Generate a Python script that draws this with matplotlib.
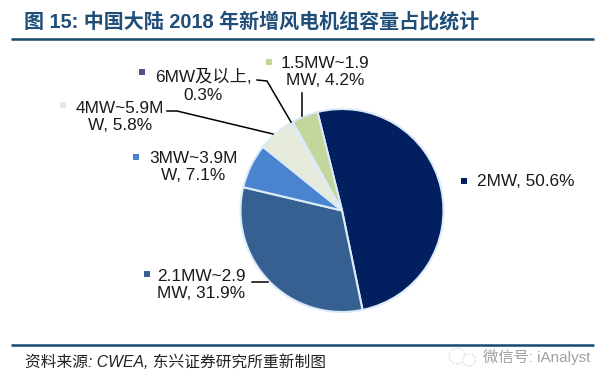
#!/usr/bin/env python3
"""Pie chart: share of newly installed wind turbines by capacity, China 2018."""

import matplotlib
matplotlib.use("Agg")
import matplotlib.pyplot as plt

plt.rcParams["font.family"] = ["Liberation Sans", "Noto Sans CJK SC", "DejaVu Sans"]

W, H = 607, 372

shares = [50.6, 31.9, 7.1, 5.8, 0.3, 4.2]
slice_colors = ["#02205f", "#376092", "#4a84cf", "#e6eadb", "#eef0ee", "#c3d69b"]
key_colors = ["#02205f", "#376092", "#4a84cf", "#e6eadb", "#5f4a8b", "#c3d69b"]

title_text = "图 15: 中国大陆 2018 年新增风电机组容量占比统计"
source_text = "资料来源: CWEA, 东兴证券研究所重新制图"
watermark_text = "微信号: iAnalyst"

label_text = [
    "2MW, 50.6%",
    "2.1MW~2.9\nMW, 31.9%",
    "3MW~3.9M\nW, 7.1%",
    "4MW~5.9M\nW, 5.8%",
    "6MW及以上,\n0.3%",
    "1.5MW~1.9\nMW, 4.2%",
]
# label text centre, key square position (pixels from top-left)
label_pos = [(526, 181), (201, 285), (193, 167), (120, 117), (203, 86), (325, 72)]
key_pos = [(464, 181), (147, 274), (136, 157), (63, 105), (142, 72), (269, 62)]
leaders = [
    [(167, 111), (177, 111), (273, 134)],
    [(257, 80), (267, 81), (291, 122)],
    [(302, 93), (302, 116)],
    [(252, 282), (268, 282)],
]


def py(y):
    return H - y


fig = plt.figure(figsize=(W / 100, H / 100), dpi=100, facecolor="white")
ax = fig.add_axes([0, 0, 1, 1])

ax.pie(
    shares,
    colors=slice_colors,
    startangle=104,
    counterclock=False,
    center=(342, py(210.5)),
    radius=101.5,
    frame=False,
    wedgeprops={"edgecolor": "#dcebf8", "linewidth": 1.5},
)
ax.set_xlim(0, W)
ax.set_ylim(0, H)
ax.set_aspect("equal")
ax.axis("off")

# header and footer
ax.text(24, py(22), title_text, fontsize=14.4, fontweight="bold", color="#1f4e79", va="center", ha="left")
ax.plot([11, 594], [py(39), py(39)], color="#17496f", lw=1.8, solid_capstyle="butt")
ax.plot([11, 594], [py(345), py(345)], color="#17496f", lw=1.8, solid_capstyle="butt")
ax.text(25, py(362), source_text, fontsize=11.3, style="italic", color="#222222", va="center", ha="left")
ax.text(483, py(357), watermark_text, fontsize=11, color="#a0a0a0", va="center", ha="left")
ax.scatter([457, 469], [py(356), py(360)], s=[130, 80], facecolor="white", edgecolor="#b5b5b5",
           lw=0.6, linestyle=":", zorder=3)

# data labels with key squares
for (x, y), txt in zip(label_pos, label_text):
    ax.text(x, py(y), txt, fontsize=12.4, color="#1a1a1a", ha="center", va="center", linespacing=1.18)
for (x, y), c in zip(key_pos, key_colors):
    ax.scatter([x], [py(y)], marker="s", s=20, color=c, linewidths=0, zorder=3)

for pts in leaders:
    ax.plot([p[0] for p in pts], [py(p[1]) for p in pts], color="black", lw=1.1, solid_joinstyle="miter")

fig.savefig("out.png", dpi=100, facecolor="white")
